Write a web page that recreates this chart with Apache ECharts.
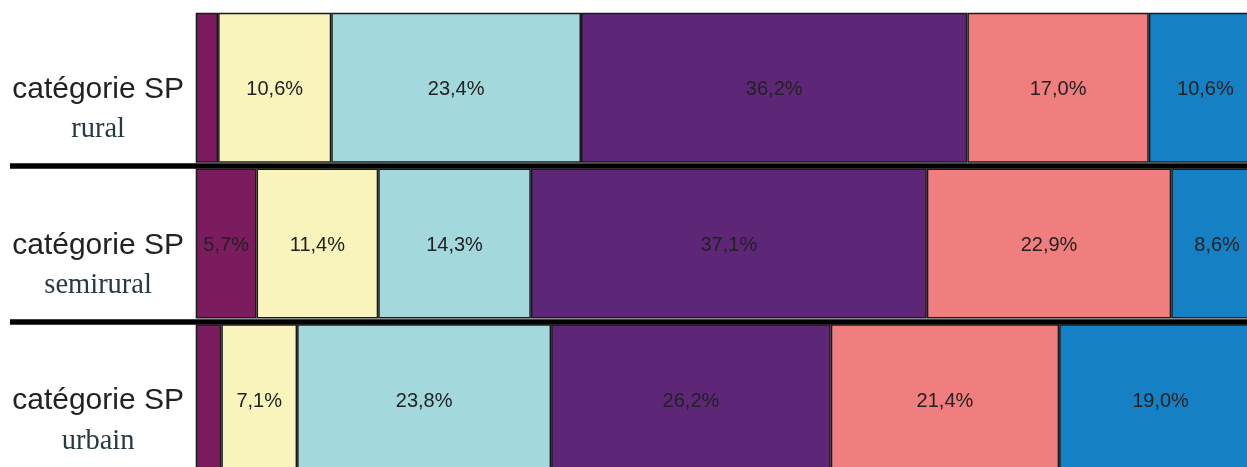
<!DOCTYPE html>
<html>
<head>
<meta charset="utf-8">
<script src="https://cdn.jsdelivr.net/npm/echarts@6/dist/echarts.min.js"></script>
<style>
  html, body { margin: 0; padding: 0; background: #fff; overflow: hidden; }
  /* the reference is cropped on the right and bottom, so the chart is a bit larger than the window */
  #chart { width: 1263px; height: 477px; }
</style>
</head>
<body>
<div id="chart"></div>
<script>
// catégories SP (rows, top to bottom)
var categories = ["rural", "semirural", "urbain"];

// share of each segment per row, in %
var seg1 = [2.1, 5.7, 2.4];
var seg2 = [10.6, 11.4, 7.1];
var seg3 = [23.4, 14.3, 23.8];
var seg4 = [36.2, 37.1, 26.2];
var seg5 = [17.0, 22.9, 21.4];
var seg6 = [10.6, 8.6, 19.0];

var segments = [seg1, seg2, seg3, seg4, seg5, seg6];
var colors = ["#7b1c5e", "#f9f4bb", "#a3d8dd", "#5d2677", "#f17e7f", "#1580c3"];

var myChart = echarts.init(document.getElementById("chart"));

var series = segments.map(function (data, i) {
  return {
    name: "s" + (i + 1),
    type: "bar",
    stack: "total",
    barWidth: 150,
    data: data,
    itemStyle: {
      color: colors[i],
      borderColor: "#1a1a1a",
      borderWidth: 1.5,
    },
    label: {
      show: true,
      position: "inside",
      offset: [0, 2],
      fontFamily: "Liberation Sans, Arial, sans-serif",
      fontSize: 20,
      color: "#222",
      textBorderWidth: 0,
      formatter: function (p) {
        // the thin first segments carry no label
        if (p.value < 5) return "";
        return p.value.toFixed(1).replace(".", ",") + "%";
      },
    },
  };
});

var option = {
  backgroundColor: "#fff",
  animation: false,
  grid: {
    left: 10,
    right: 0,
    top: 10,
    bottom: 0,
    containLabel: false,
    outerBoundsMode: "none",
  },
  xAxis: {
    type: "value",
    min: -17.4,
    max: 100,
    axisLine: { show: false },
    axisTick: { show: false },
    axisLabel: { show: false },
    splitLine: { show: false },
  },
  yAxis: {
    type: "category",
    inverse: true,
    data: categories,
    axisLine: { show: false },
    axisTick: { show: false },
    axisLabel: {
      // labels sit in the empty part of the grid, left of value 0
      margin: -174,
      padding: [44, 0, 0, 0],
      formatter: function (v) {
        return "{a|catégorie SP}\n{b|" + v + "}";
      },
      rich: {
        a: {
          fontFamily: "Liberation Sans, Arial, sans-serif",
          fontSize: 30,
          color: "#222",
          lineHeight: 40,
        },
        b: {
          fontFamily: "Liberation Serif, Times New Roman, serif",
          fontSize: 28.5,
          color: "#263a40",
          lineHeight: 40,
          align: "center",
        },
      },
    },
    splitLine: {
      show: true,
      showMinLine: false,
      showMaxLine: false,
      interval: 0,
      lineStyle: { color: "#000", width: 5.5 },
    },
  },
  series: series,
};

myChart.setOption(option);
</script>
</body>
</html>
